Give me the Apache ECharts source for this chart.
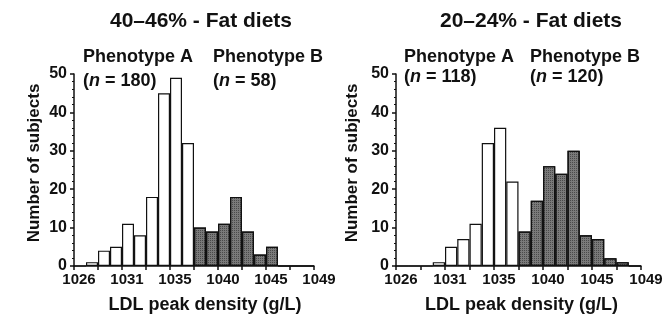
<!DOCTYPE html>
<html><head><meta charset="utf-8">
<script src="https://cdn.jsdelivr.net/npm/echarts@6/dist/echarts.min.js"></script>
<style>html,body{margin:0;padding:0;background:#fff}#c{width:669px;height:321px}</style>
</head><body><div id="c"></div>
<script>
// LDL peak density bins (g/L), bin centres
const bins = ['1026.6','1027.7','1028.9','1030.0','1031.2','1032.3','1033.5','1034.6','1035.8','1036.9',
              '1038.1','1039.2','1040.4','1041.5','1042.7','1043.8','1045.0','1046.1','1047.3','1048.4'];
// tick labels shown at bin edges 0,4,8,12,16,20
const xTickLabels = ['1026','1031','1035','1040','1045','1049'];
const yTicks = [0, 10, 20, 30, 40, 50];

// 40–46% fat diets
const highFatA = [0, 1, 4, 5, 11, 8, 18, 45, 49, 32, '-', '-', '-', '-', '-', '-', '-', '-', '-', '-'];
const highFatB = ['-', '-', '-', '-', '-', '-', '-', '-', '-', '-', 10, 9, 11, 18, 9, 3, 5, 0, 0, 0];
// 20–24% fat diets
const lowFatA = [0, 0, 0, 1, 5, 7, 11, 32, 36, 22, '-', '-', '-', '-', '-', '-', '-', '-', '-', '-'];
const lowFatB = ['-', '-', '-', '-', '-', '-', '-', '-', '-', '-', 9, 17, 26, 24, 30, 8, 7, 2, 1, 0];

const titles = ['40–46% - Fat diets', '20–24% - Fat diets'];
const phenoA = ['Phenotype A', 'Phenotype A'];
const phenoB = ['Phenotype B', 'Phenotype B'];
const nA = [180, 118];
const nB = [58, 120];

const FONT = '"Liberation Sans", Arial, Helvetica, sans-serif';
const INK = '#111';

const grids = [
  {left: 74, top: 74, width: 240, height: 192},
  {left: 396, top: 74, width: 245, height: 192}
];

const xAxes = [], yAxes = [], series = [];
const seriesData = [[highFatA, highFatB], [lowFatA, lowFatB]];
grids.forEach((g, i) => {
  xAxes.push({type: 'category', gridIndex: i, data: bins, show: false, boundaryGap: true});
  xAxes.push({
    type: 'value', gridIndex: i, min: 0, max: 20, interval: 2, position: 'bottom',
    axisLine: {show: true, onZero: false, lineStyle: {color: INK, width: 1.5}},
    axisTick: {show: true, length: 4, lineStyle: {color: INK, width: 1.5}},
    splitLine: {show: false},
    axisLabel: {
      fontFamily: FONT, fontWeight: 'bold', fontSize: 15, color: INK, margin: 6,
      padding: [0, 0, 0, 10],
      formatter: v => (v % 4 === 0 ? xTickLabels[v / 4] : '')
    },
    name: 'LDL peak density (g/L)', nameLocation: 'middle', nameGap: 30,
    nameTextStyle: {fontFamily: FONT, fontWeight: 'bold', fontSize: 18, color: INK,
      padding: i === 0 ? [0, 0, 0, 22] : [0, 0, 0, 6]}
  });
  yAxes.push({
    type: 'value', gridIndex: i, min: yTicks[0], max: yTicks[yTicks.length - 1], interval: 10,
    axisLine: {show: true, lineStyle: {color: INK, width: 1.5}},
    axisTick: {show: true, length: 4, lineStyle: {color: INK, width: 1.5}},
    minorTick: {show: true, splitNumber: 5, length: 2, lineStyle: {color: INK, width: 1}},
    splitLine: {show: false},
    axisLabel: {fontFamily: FONT, fontWeight: 'bold', fontSize: 16, color: INK, margin: 7},
    name: 'Number of subjects', nameLocation: 'middle', nameGap: i === 0 ? 31 : 35,
    nameTextStyle: {fontFamily: FONT, fontWeight: 'bold', fontSize: 17, color: INK,
      padding: [0, 0, 0, 14]}
  });
  series.push({
    type: 'bar', xAxisIndex: i * 2, yAxisIndex: i, data: seriesData[i][0], stack: 's' + i,
    barCategoryGap: '0%', itemStyle: {color: '#ffffff', borderColor: INK, borderWidth: 1.2}
  });
  series.push({
    type: 'bar', xAxisIndex: i * 2, yAxisIndex: i, data: seriesData[i][1], stack: 's' + i,
    barCategoryGap: '0%',
    itemStyle: {
      color: '#7a7a7a', borderColor: INK, borderWidth: 1.2,
      decal: {symbol: 'rect', symbolSize: 1, dashArrayX: [1, 1], dashArrayY: [1, 1],
        color: 'rgba(25,25,25,0.5)', rotation: 0}
    }
  });
});

const txt = (text, x, y, size, align) => ({
  type: 'text', x: x, y: y, silent: true,
  style: {text: text, fill: INK, fontFamily: FONT, fontWeight: 'bold', fontSize: size,
    textAlign: align || 'left', textVerticalAlign: 'middle',
    rich: {i: {fontStyle: 'italic', fontWeight: 'bold', fontSize: size, fontFamily: FONT, fill: INK}}}
});

const graphic = [
  txt(titles[0], 201, 21, 21, 'center'),
  txt(titles[1], 531, 21, 21, 'center'),
  txt(phenoA[0], 83, 57, 18),
  txt('({i|n} = ' + nA[0] + ')', 83, 81, 18),
  txt(phenoB[0], 213, 57, 18),
  txt('({i|n} = ' + nB[0] + ')', 213, 81, 18),
  txt(phenoA[1], 404, 57, 18),
  txt('({i|n} = ' + nA[1] + ')', 404, 77, 18),
  txt(phenoB[1], 530, 57, 18),
  txt('({i|n} = ' + nB[1] + ')', 530, 77, 18)
];

const chart = echarts.init(document.getElementById('c'), null, {renderer: 'canvas'});
chart.setOption({
  animation: false,
  backgroundColor: '#fff',
  grid: grids,
  xAxis: xAxes,
  yAxis: yAxes,
  series: series,
  graphic: graphic
});
</script>
</body></html>
